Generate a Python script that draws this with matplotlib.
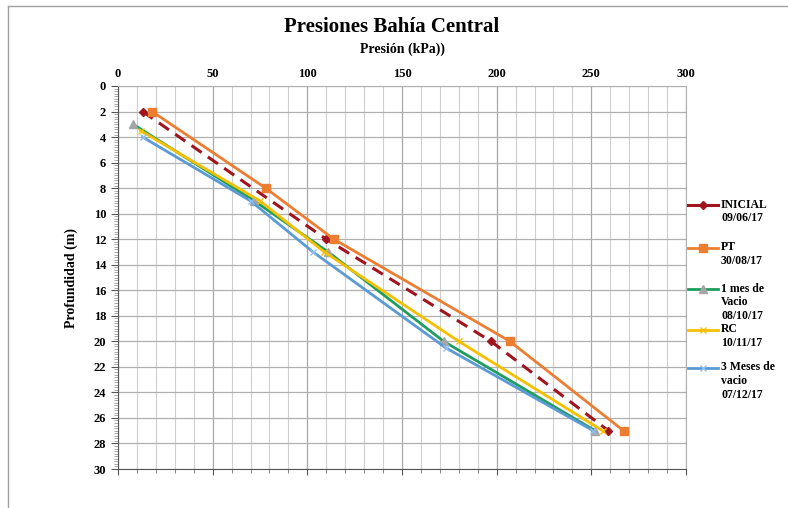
import matplotlib
matplotlib.use("Agg")
import matplotlib.pyplot as plt
from matplotlib.ticker import MultipleLocator
from matplotlib.lines import Line2D

plt.rcParams['font.family'] = ['Liberation Serif', 'DejaVu Serif']
plt.rcParams['font.weight'] = 'bold'

# Data (Presión kPa, Profundidad m)
inicial_x = [13, 110, 197, 259]
inicial_y = [2, 12, 20, 27]

pt_x = [18, 78, 114, 207, 267]
pt_y = [2, 8, 12, 20, 27]

mes1_x = [8, 72, 111, 172, 252]
mes1_y = [3, 9, 13, 20, 27]

rc_x = [12, 75, 109, 180, 256]
rc_y = [3.5, 9, 13, 20, 27]

mes3_x = [13, 70, 103, 173, 251]
mes3_y = [4, 9, 13, 20.5, 27]

labels = ["INICIAL\n09/06/17", "PT\n30/08/17", "1 mes de\nVacio\n08/10/17",
          "RC\n10/11/17", "3 Meses de\nvacio\n07/12/17"]

W, H = 788, 508
fig = plt.figure(figsize=(W/100, H/100), dpi=100)
ax = fig.add_axes([118/W, 1-469/H, (686-118)/W, (469-86)/H])

ax.set_xlim(0, 300)
ax.set_ylim(30, 0)

ax.xaxis.set_major_locator(MultipleLocator(50))
ax.xaxis.set_minor_locator(MultipleLocator(10))
ax.yaxis.set_major_locator(MultipleLocator(2))
ax.yaxis.set_minor_locator(MultipleLocator(0.2))

ax.grid(which='major', axis='x', color='#a8a8a8', lw=0.9)
ax.grid(which='minor', axis='x', color='#cfcfcf', lw=0.8)
ax.grid(which='major', axis='y', color='#b0b0b0', lw=0.9)
ax.set_axisbelow(True)

ax.xaxis.tick_top()
ax.xaxis.set_label_position('top')
ax.tick_params(axis='x', which='major', top=False, bottom=True, direction='out',
               length=4, labelsize=9, pad=0.5, color='#555555')
ax.tick_params(axis='x', which='minor', top=False, bottom=True, direction='out',
               length=3, color='#777777')
ax.tick_params(axis='y', which='major', direction='out', length=5, labelsize=9, color='#555555')
ax.tick_params(axis='y', which='minor', direction='out', length=3, width=0.5, color='#888888')
for lab in ax.get_xticklabels() + ax.get_yticklabels():
    lab.set_fontweight('bold')

for s in ['top', 'right']:
    ax.spines[s].set_color('#b0b0b0')
ax.spines['left'].set_color('#555555')
ax.spines['bottom'].set_color('#555555')

ax.set_xlabel("Presión (kPa))", fontsize=10, fontweight='bold', labelpad=11)
ax.set_ylabel("Profundidad (m)", fontsize=10, fontweight='bold', labelpad=11)
fig.text(392/W, 1-27/H, "Presiones Bahía Central", ha='center', va='center',
         fontsize=15, fontweight='bold')

styles = [
    dict(color='#A0141E', lw=2.2, ls=(0, (4, 2.5)), marker='D', ms=4.5,
         mfc='#A0141E', mec='#A0141E'),
    dict(color='#ED7D31', lw=2, marker='s', ms=6, mfc='#ED7D31', mec='#ED7D31'),
    dict(color='#1E9E5E', lw=2, marker='^', ms=6, mfc='#A5A5A5', mec='#A5A5A5'),
    dict(color='#F5C000', lw=2, marker='x', ms=5, mec='#F5C000'),
    dict(color='#5B9BD5', lw=2, marker='x', ms=5, mec='#8FBFEA'),
]
series = [(inicial_x, inicial_y), (pt_x, pt_y), (mes1_x, mes1_y),
          (rc_x, rc_y), (mes3_x, mes3_y)]
for (xs, ys), st in zip(series, styles):
    ax.plot(xs, ys, **st)

# legend (handle aligned with first text line, as in the reference)
leg_y = [205, 248, 289, 330, 368]
for yy, lab, st in zip(leg_y, labels, styles):
    yf = 1 - yy/H
    fig.add_artist(Line2D([688/W, 718/W], [yf, yf], transform=fig.transFigure,
                          color=st['color'], lw=st['lw']))
    fig.add_artist(Line2D([703/W], [yf], transform=fig.transFigure, ls='none',
                          marker=st['marker'], ms=st['ms'],
                          mfc=st.get('mfc', 'none'), mec=st.get('mec', st['color'])))
    fig.text(721/W, yf + 6.5/H, lab, ha='left', va='top', fontsize=8.5,
             fontweight='bold', linespacing=1.2)

# figure border
fig.add_artist(Line2D([8/W, 8/W], [0, 1-6/H], transform=fig.transFigure,
                      color='#a0a0a0', lw=1))
fig.add_artist(Line2D([8/W, 1], [1-6/H, 1-6/H], transform=fig.transFigure,
                      color='#a0a0a0', lw=1))

fig.savefig("out.png", dpi=100)
